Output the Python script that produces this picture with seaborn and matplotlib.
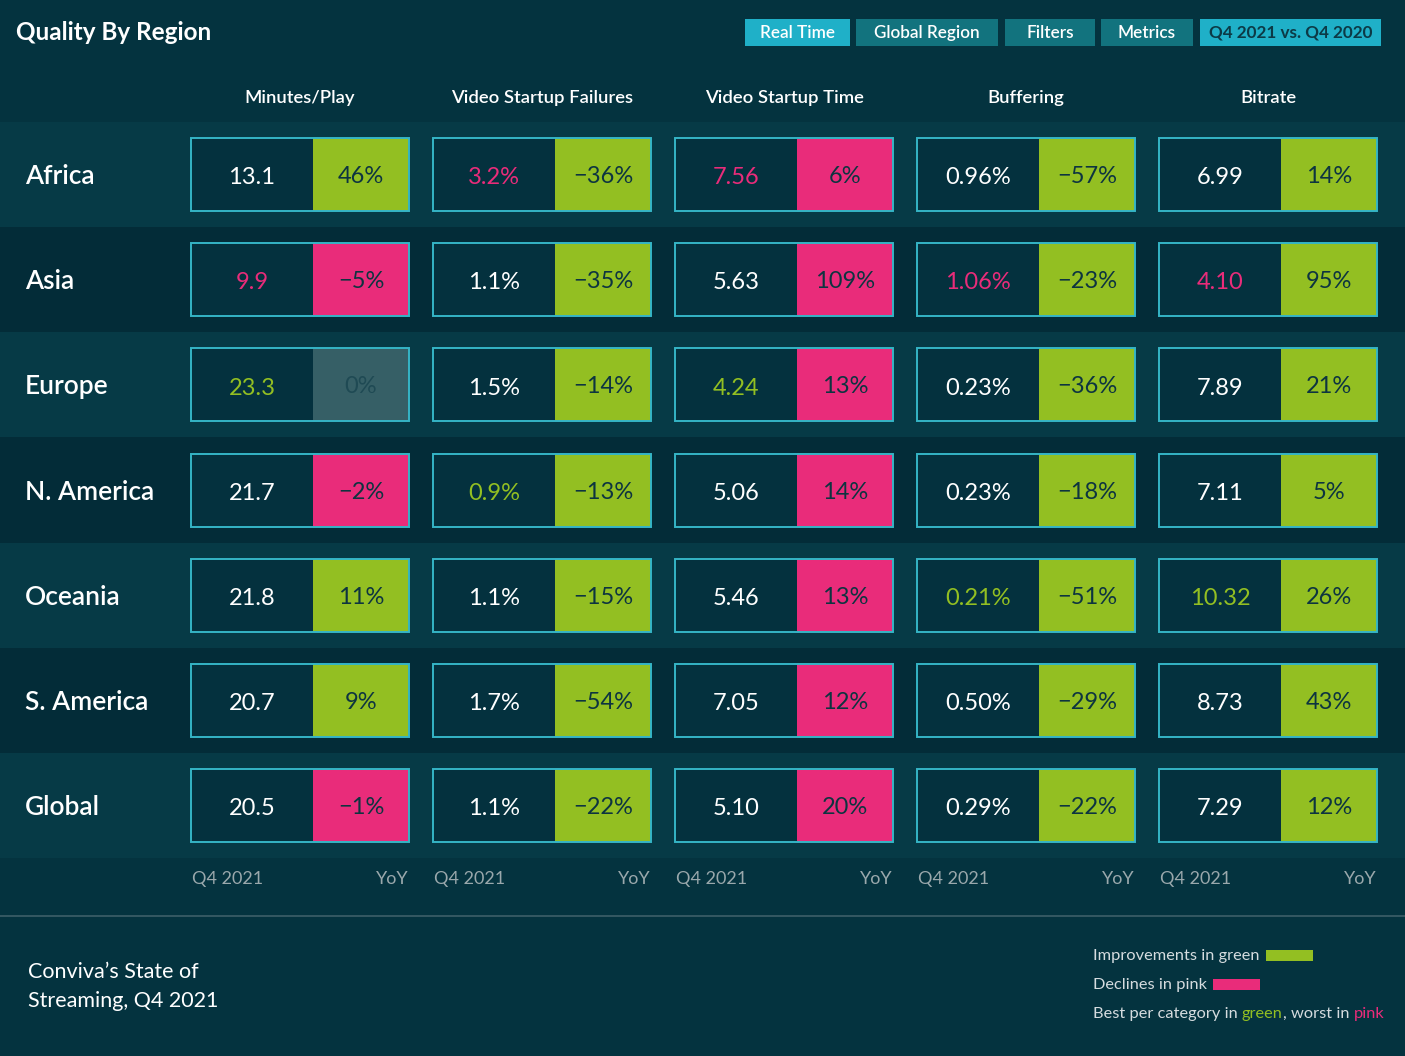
import numpy as np
import pandas as pd
import matplotlib
matplotlib.use("Agg")
import matplotlib.pyplot as plt
import seaborn as sns
from matplotlib.patches import Rectangle

# ---------------- data ----------------
regions = ["Africa", "Asia", "Europe", "N. America", "Oceania", "S. America", "Global"]
metrics = ["Minutes/Play", "Video Startup Failures", "Video Startup Time", "Buffering", "Bitrate"]

minutes_play = [13.1, 9.9, 23.3, 21.7, 21.8, 20.7, 20.5]
startup_failures = [3.2, 1.1, 1.5, 0.9, 1.1, 1.7, 1.1]
startup_time = [7.56, 5.63, 4.24, 5.06, 5.46, 7.05, 5.10]
buffering = [0.96, 1.06, 0.23, 0.23, 0.21, 0.50, 0.29]
bitrate = [6.99, 4.10, 7.89, 7.11, 10.32, 8.73, 7.29]

minutes_yoy = [46, -5, 0, -2, 11, 9, -1]
failures_yoy = [-36, -35, -14, -13, -15, -54, -22]
time_yoy = [6, 109, 13, 14, 13, 12, 20]
buffering_yoy = [-57, -23, -36, -18, -51, -29, -22]
bitrate_yoy = [14, 95, 21, 5, 26, 43, 12]

value_formats = ["{:.1f}", "{:.1f}%", "{:.2f}", "{:.2f}%", "{:.2f}"]
higher_is_better = [True, False, False, False, True]
header_buttons = ["Real Time", "Global Region", "Filters", "Metrics", "Q4 2021 vs. Q4 2020"]
bottom_left_label = "Q4 2021"
bottom_right_label = "YoY"

values = [minutes_play, startup_failures, startup_time, buffering, bitrate]
yoys = [minutes_yoy, failures_yoy, time_yoy, buffering_yoy, bitrate_yoy]

# ---------------- style ----------------
BG = "#04333f"
BAND_LIGHT = "#063a46"
BAND_DARK = "#032c38"
CELL_FILL = "#04313e"
BORDER = "#35b5c6"
GREEN = "#93bf22"
PINK = "#e92c7a"
GRAY = "#365f66"
DARK_TXT = "#0d3440"
GRAY_TXT = "#1f4a54"
SUB_TXT = "#9aa8ac"

sns.set_theme(style="white")
plt.rcParams["font.family"] = ["Lato", "DejaVu Sans"]

rows = []
for j, m in enumerate(metrics):
    vals = np.array(values[j], dtype=float)
    comp = vals[:-1]  # Global excluded from best/worst
    best = comp.max() if higher_is_better[j] else comp.min()
    worst = comp.min() if higher_is_better[j] else comp.max()
    for i, r in enumerate(regions):
        v = values[j][i]
        y = yoys[j][i]
        sgn = np.sign(y) * (1 if higher_is_better[j] else -1)
        if r != "Global" and v == best:
            vcol = GREEN
        elif r != "Global" and v == worst:
            vcol = PINK
        else:
            vcol = "white"
        rows.append(dict(metric=m, col=j, region=r, row=i, value=v,
                         label=value_formats[j].format(v), yoy=y,
                         yoy_color=GREEN if sgn > 0 else (PINK if sgn < 0 else GRAY),
                         yoy_txt=DARK_TXT if sgn != 0 else GRAY_TXT,
                         value_color=vcol))
df = pd.DataFrame(rows)

W, H = 1405, 1056
fig = plt.figure(figsize=(W / 100, H / 100), dpi=100, facecolor=BG)

# geometry (pixel layout -> axes placement)
grid_top, grid_bot = 122, 858
col_pitch = 242.0
first_left = 191.0
axpos = [0, 1 - grid_bot / H, 1, (grid_bot - grid_top) / H]

# background bands via seaborn heatmap
bax = fig.add_axes(axpos, zorder=0)
band_vals = pd.DataFrame({"band": [i % 2 for i in range(len(regions))]}, index=regions)
sns.heatmap(band_vals, ax=bax, cmap=[BAND_LIGHT, BAND_DARK], cbar=False,
            xticklabels=False, yticklabels=False, linewidths=0)
bax.set_axis_off()

ax = fig.add_axes(axpos, zorder=1)
ax.patch.set_alpha(0)
ax.set_xlim(-first_left / col_pitch, (W - first_left) / col_pitch)
ax.set_ylim(len(regions) - 0.5, -0.5)
ax.set_axis_off()

LW = 122 / col_pitch
RW = 96 / col_pitch
CH = 73 / ((grid_bot - grid_top) / len(regions))

ax.bar(df["col"], CH, width=LW, bottom=df["row"] - CH / 2, align="edge",
       color=CELL_FILL, linewidth=0)
ax.bar(df["col"] + LW, CH, width=RW, bottom=df["row"] - CH / 2, align="edge",
       color=df["yoy_color"], linewidth=0)
ax.bar(df["col"], CH, width=LW + RW, bottom=df["row"] - CH / 2, align="edge",
       fill=False, edgecolor=BORDER, linewidth=1.4)

for _, r in df.iterrows():
    ax.text(r["col"] + LW / 2, r["row"] + 0.03, r["label"], ha="center", va="center",
            fontsize=17, color=r["value_color"])
    ax.text(r["col"] + LW + RW / 2, r["row"] + 0.02, f"{r['yoy']}%".replace("-", "\u2212"),
            ha="center", va="center", fontsize=17, color=r["yoy_txt"])

for i, reg in enumerate(regions):
    ax.text(-166 / col_pitch, i + 0.02, reg, ha="left", va="center", fontsize=19,
            color="white", fontweight="semibold")

for j, m in enumerate(metrics):
    ax.text(j + (LW + RW) / 2, -0.5 - 24 / 105, m, ha="center", va="center",
            fontsize=13.3, color="white", fontweight="semibold", clip_on=False)
    ax.text(j + 0.005, 6.5 + 21 / 105, bottom_left_label, ha="left", va="center",
            fontsize=13, color=SUB_TXT, clip_on=False)
    ax.text(j + LW + RW, 6.5 + 21 / 105, bottom_right_label, ha="right", va="center",
            fontsize=13, color=SUB_TXT, clip_on=False)

# overlay for decorations (pixel coordinates)
ov = fig.add_axes([0, 0, 1, 1], zorder=2)
ov.set_xlim(0, W)
ov.set_ylim(H, 0)
ov.set_axis_off()
ov.patch.set_alpha(0)

ov.text(16, 32, "Quality By Region", ha="left", va="center", fontsize=17.5,
        color="white", fontweight="bold")

btn_x = [(745, 850), (856, 998), (1005, 1095), (1101, 1193), (1200, 1381)]
btn_bg = ["#1fb0c8", "#12737e", "#12737e", "#12737e", "#1fb0c8"]
btn_fg = ["white", "white", "white", "white", "#0c3a46"]
btn_w = ["semibold", "semibold", "semibold", "semibold", "bold"]
for (x0, x1), lab, bg, fg, fw in zip(btn_x, header_buttons, btn_bg, btn_fg, btn_w):
    ov.add_patch(Rectangle((x0, 19), x1 - x0, 27, facecolor=bg, edgecolor="none"))
    ov.text((x0 + x1) / 2, 33, lab, ha="center", va="center", fontsize=12.3,
            color=fg, fontweight=fw)

ov.plot([0, W], [916, 916], color="#3d5f68", lw=1.2)

ov.text(28, 972, "Conviva\u2019s State of", ha="left", va="center", fontsize=15.5, color="white")
ov.text(28, 1001, "Streaming, Q4 2021", ha="left", va="center", fontsize=15.5, color="white")

LEG_TXT = "#d5dcdf"
FS_LEG = 11.8
t1 = ov.text(1093, 956, "Improvements in green", ha="left", va="center", fontsize=FS_LEG, color=LEG_TXT)
t2 = ov.text(1093, 985, "Declines in pink", ha="left", va="center", fontsize=FS_LEG, color=LEG_TXT)
t3 = ov.text(1093, 1014, "Best per category in ", ha="left", va="center", fontsize=FS_LEG, color=LEG_TXT)
t4 = ov.annotate("green", xy=(1, 0.5), xycoords=t3, ha="left", va="center", fontsize=FS_LEG, color=GREEN)
t5 = ov.annotate(", worst in ", xy=(1, 0.5), xycoords=t4, ha="left", va="center", fontsize=FS_LEG, color=LEG_TXT)
t6 = ov.annotate("pink", xy=(1, 0.5), xycoords=t5, ha="left", va="center", fontsize=FS_LEG, color=PINK)

fig.canvas.draw()
inv = ov.transData.inverted()
for t, col, yc in [(t1, GREEN, 955), (t2, PINK, 984)]:
    bb = t.get_window_extent()
    xe = inv.transform((bb.x1, bb.y0))[0]
    ov.add_patch(Rectangle((xe + 6, yc - 5.5), 47, 11, facecolor=col, edgecolor="none"))

fig.savefig("out.png", dpi=100, facecolor=BG)
